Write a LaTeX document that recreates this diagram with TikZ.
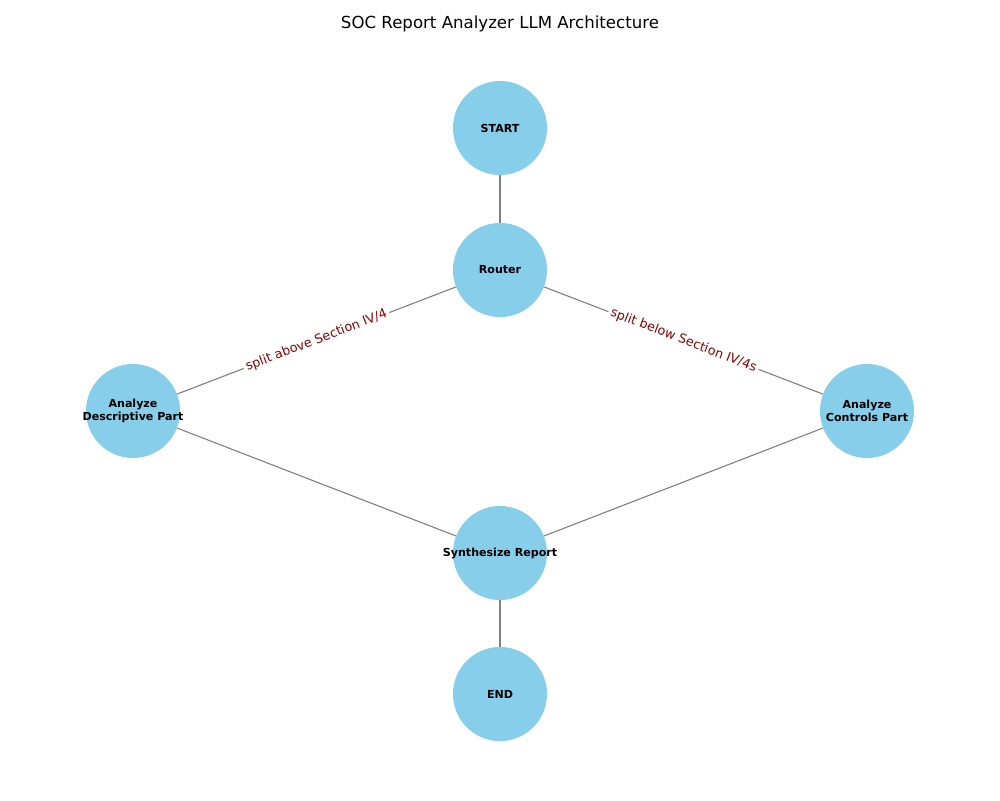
\documentclass[tikz,border=0pt]{standalone}
\usepackage{fontspec}
\setmainfont{DejaVu Sans}
\definecolor{skyblue}{HTML}{87CEEB}
\definecolor{darkred}{HTML}{8B0000}
\tikzset{
    statetext/.style={inner sep=0pt, align=center,
        font=\fontsize{8}{9.3}\selectfont\bfseries},
    state/.style={circle, fill=skyblue, minimum size=2.39cm, inner sep=0pt,
        label={[statetext]center:#1}},
    link/.style={draw=gray, line width=0.8pt},
    cond/.style={midway, sloped, fill=white, inner sep=2pt, text=darkred,
        font=\fontsize{9.2}{10}\selectfont}
}
\begin{document}
\begin{tikzpicture}[x=0.0254cm, y=-0.0254cm]
        \useasboundingbox (0,0) rectangle (1000,800);

        \node (title) at (500,24) {\fontsize{12}{14}\selectfont SOC Report Analyzer LLM Architecture};

        \node[state=START] (start) at (500,128) {};
        \node[state=Router] (router) at (500,270) {};
        \node[state={Analyze\\Descriptive Part}] (desc) at (133,411) {};
        \node[state={Analyze\\Controls Part}] (ctrl) at (867,411) {};
        \node[state=Synthesize Report] (synth) at (500,553) {};
        \node[state=END] (end) at (500,694) {};

        % edges
        \draw[link] (start) -- (router);
        \draw[link] (desc) -- (router) node[cond] {split above Section IV/4};
        \draw[link] (router) -- (ctrl) node[cond] {split below Section IV/4s};
        \draw[link] (desc) -- (synth);
        \draw[link] (ctrl) -- (synth);
        \draw[link] (synth) -- (end);
\end{tikzpicture}
\end{document}
